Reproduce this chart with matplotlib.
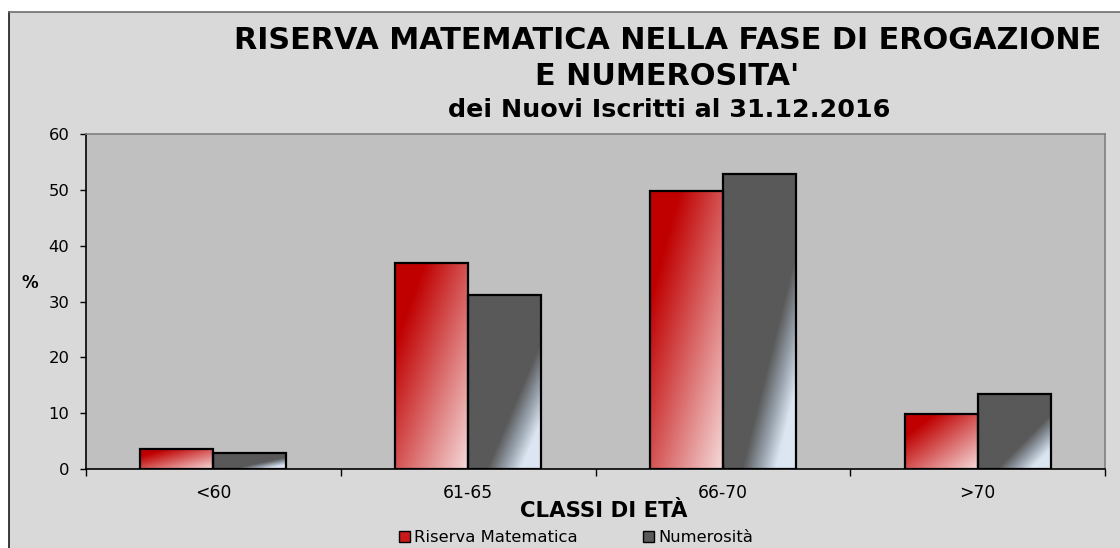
import numpy as np
import matplotlib
matplotlib.use("Agg")
import matplotlib.pyplot as plt
from matplotlib.colors import LinearSegmentedColormap
from matplotlib.patches import Rectangle
from matplotlib.lines import Line2D

# data
classi = ["<60", "61-65", "66-70", ">70"]
riserva = [3.6, 36.9, 49.8, 9.8]
numerosita = [2.8, 31.1, 52.9, 13.4]
serie = ["Riserva Matematica", "Numerosità"]

plt.rcParams["font.family"] = "DejaVu Sans"

W, H = 1120, 548
fig = plt.figure(figsize=(W / 100, H / 100), dpi=100, facecolor="white")

# chart area background with its frame
fig.patches.append(Rectangle((9 / W, 0), 1 - 9 / W, 1 - 12 / H,
                             transform=fig.transFigure, facecolor="#d9d9d9",
                             edgecolor="none", zorder=-10))
fig.add_artist(Line2D([9 / W, 9 / W], [0, 1 - 12 / H], color="#1a1a1a", lw=1.2))
fig.add_artist(Line2D([9 / W, 1], [1 - 12 / H, 1 - 12 / H], color="#6e6e6e", lw=1.2))

ax = fig.add_axes([86 / W, 79 / H, 1019 / W, 335 / H])
ax.set_facecolor("#c0c0c0")

x = np.arange(len(classi))
w = 0.287
b1 = ax.bar(x - w / 2, riserva, w, facecolor="none", edgecolor="black", lw=1.6, zorder=3)
b2 = ax.bar(x + w / 2, numerosita, w, facecolor="none", edgecolor="black", lw=1.6, zorder=3)

# gradient fills clipped to each bar
red_cmap = LinearSegmentedColormap.from_list(
    "rosso", [(0, "#c00000"), (0.2, "#c00000"), (1, "#f6dcdc")])
grey_cmap = LinearSegmentedColormap.from_list(
    "grigio", [(0, "#595959"), (0.63, "#595959"), (0.75, "#97a1ac"),
               (0.86, "#dce6f2"), (1, "#dce6f2")])

u, v = np.meshgrid(np.linspace(0, 1, 200), np.linspace(0, 1, 400))
t = (u - v + 1) / 2

for bars, cmap in [(b1, red_cmap), (b2, grey_cmap)]:
    for bar in bars:
        x0, y0 = bar.get_x(), bar.get_y()
        bw, bh = bar.get_width(), bar.get_height()
        im = ax.imshow(cmap(t), extent=[x0, x0 + bw, y0, y0 + bh], origin="lower",
                       aspect="auto", zorder=2, interpolation="bilinear")
        im.set_clip_path(bar)

ax.set_xlim(-0.5, len(classi) - 0.5)
ax.set_ylim(0, 60)
ax.set_yticks(range(0, 61, 10))
ax.tick_params(axis="y", direction="out", length=4, width=1, pad=8, labelsize=11.8, colors="black")

ax.set_xticks(np.arange(-0.5, len(classi), 1))
ax.set_xticklabels([])
ax.tick_params(axis="x", which="major", direction="out", length=5, width=1)
ax.set_xticks(x, minor=True)
ax.set_xticklabels(classi, minor=True)
ax.tick_params(axis="x", which="minor", length=0, pad=11, labelsize=12.3)

for s in ["left", "bottom"]:
    ax.spines[s].set_color("black")
    ax.spines[s].set_linewidth(1.2)
for s in ["top", "right"]:
    ax.spines[s].set_color("#808080")
    ax.spines[s].set_linewidth(1.2)

# titles and axis labels
fig.text(668 / W, 1 - 49 / H, "RISERVA MATEMATICA NELLA FASE DI EROGAZIONE",
         ha="center", va="baseline", fontsize=21.8, fontweight="bold")
fig.text(667 / W, 1 - 85 / H, "E NUMEROSITA'",
         ha="center", va="baseline", fontsize=21.8, fontweight="bold")
fig.text(669 / W, 1 - 117 / H, "dei Nuovi Iscritti al 31.12.2016",
         ha="center", va="baseline", fontsize=18.3, fontweight="bold")
fig.text(604 / W, 1 - 517 / H, "CLASSI DI ETÀ",
         ha="center", va="baseline", fontsize=15.3, fontweight="bold")
fig.text(30 / W, 1 - 283 / H, "%",
         ha="center", va="center", fontsize=12, fontweight="bold")

h1 = Rectangle((0, 0), 1, 1, facecolor="#c81a1a", edgecolor="black", lw=1)
h2 = Rectangle((0, 0), 1, 1, facecolor="#595959", edgecolor="black", lw=1)
fig.legend([h1, h2], serie, loc="center", bbox_to_anchor=(576 / W, 1 - 538 / H),
           ncol=2, frameon=False, fontsize=11.8, handlelength=0.65, handleheight=0.65,
           handletextpad=0.25, columnspacing=4.0, borderpad=0)

fig.savefig("out.png", dpi=100, facecolor="white")
